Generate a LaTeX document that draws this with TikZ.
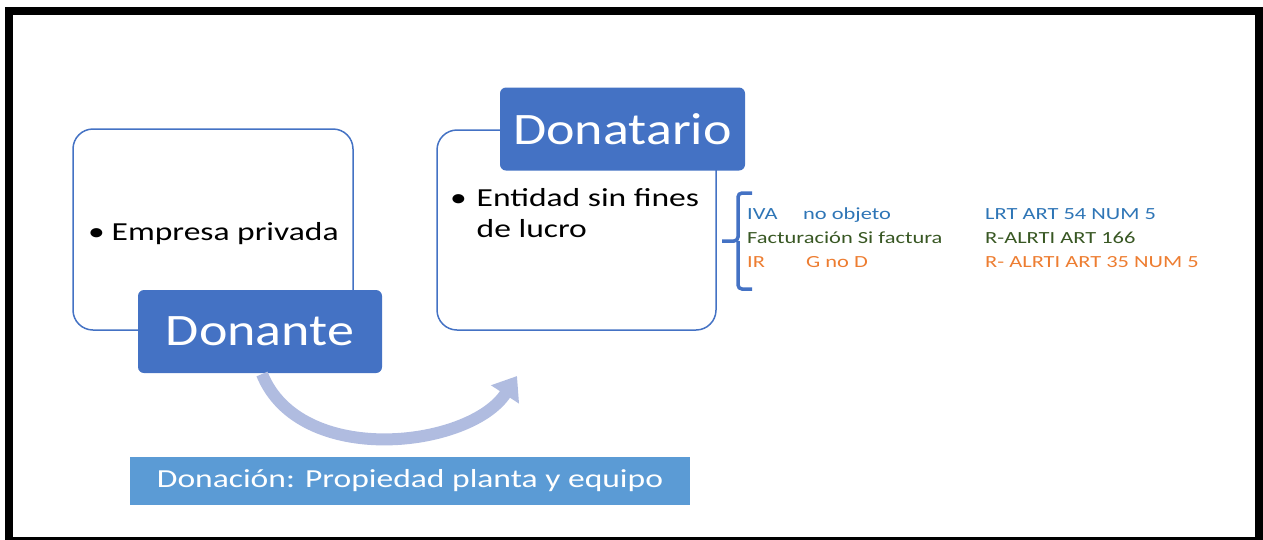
\documentclass[tikz,border=0pt]{standalone}
\usepackage{fontspec}
\setmainfont{Carlito}
\newfontfamily\titlefont[FakeStretch=1.2]{Carlito}
\newfontfamily\bodyfont[FakeStretch=1.29]{Carlito}
\newfontfamily\rowfont[FakeStretch=1.32]{Carlito}
\usetikzlibrary{arrows.meta}

\definecolor{boxblue}{RGB}{68,114,196}
\definecolor{barblue}{RGB}{91,155,213}
\definecolor{arcblue}{RGB}{176,188,224}
\definecolor{ivablue}{RGB}{46,117,182}
\definecolor{facgreen}{RGB}{56,87,35}
\definecolor{irorange}{RGB}{237,125,49}

\begin{document}
\begin{tikzpicture}[x=1pt, y=-1pt,
  outline/.style={draw=boxblue, line width=1.5pt, rounded corners=20pt, fill=white, inner sep=0pt},
  title/.style={fill=boxblue, rounded corners=6pt, text=white, inner sep=0pt, font=\titlefont\fontsize{45}{50}\selectfont},
  bullet/.style={anchor=base west, inner sep=0pt, font=\bodyfont\fontsize{26}{31}\selectfont},
  rowtext/.style={anchor=base west, inner sep=0pt, font=\rowfont\fontsize{17}{20}\selectfont}]
  \useasboundingbox (0,0) rectangle (1263,539);
  \draw[line width=8pt] (9,11) rectangle (1259,541);

  % left side
  \node[outline, minimum width=280pt, minimum height=201pt] (giver) at (213,229.5) {};
  \node[bullet] (empresa) at (88,240) {\makebox[23.5pt][l]{\textbullet}Empresa privada};
  \node[title, minimum width=244pt, minimum height=83pt] (donante) at (260,331.5) {Donante};

  % right side
  \node[outline, minimum width=279pt, minimum height=200pt] (taker) at (576.5,230) {};
  \node[title, minimum width=245pt, minimum height=83pt] (donatario) at (622.5,129) {Donatario};
  \node[bullet] (entidad) at (450,206) {\makebox[26.5pt][l]{\textbullet}Entidad sin fines};
  \node[bullet] (lucro) at (476.5,237) {de lucro};

  % arc
  \coordinate (arcstart) at (262,374);
  \coordinate (arcend) at (517,376);
  \draw[arcblue, line width=12pt, -{Triangle[width=32pt, length=22pt]}]
    (arcstart) .. controls (300,468) and (470,448) .. (arcend);

  \node[fill=barblue, text=white, minimum width=560pt, minimum height=48pt, inner sep=0pt,
    font=\bodyfont\fontsize{26}{30}\selectfont] (donacion) at (410,481) {Donación: Propiedad planta y equipo};

  % brace
  \coordinate (bracetip) at (722,241);
  \draw[boxblue, line width=3.5pt, rounded corners=4pt]
    (752,193) -- (738,193) -- (738,241) -- (bracetip) (738,241) -- (738,289) -- (752,289);

  \node[rowtext, text=ivablue] (iva) at (747,219) {IVA};
  \node[rowtext, text=ivablue] (noobj) at (803,219) {no objeto};
  \node[rowtext, text=ivablue] (lrt) at (985,219) {LRT ART 54 NUM 5};
  \node[rowtext, text=facgreen] (fact) at (747,243) {Facturación Si factura};
  \node[rowtext, text=facgreen] (ralrti) at (985,243) {R-ALRTI ART 166};
  \node[rowtext, text=irorange] (ir) at (747,267) {IR};
  \node[rowtext, text=irorange] (gnod) at (806,267) {G no D};
  \node[rowtext, text=irorange] (ralrti2) at (985,267) {R- ALRTI ART 35 NUM 5};
\end{tikzpicture}
\end{document}
